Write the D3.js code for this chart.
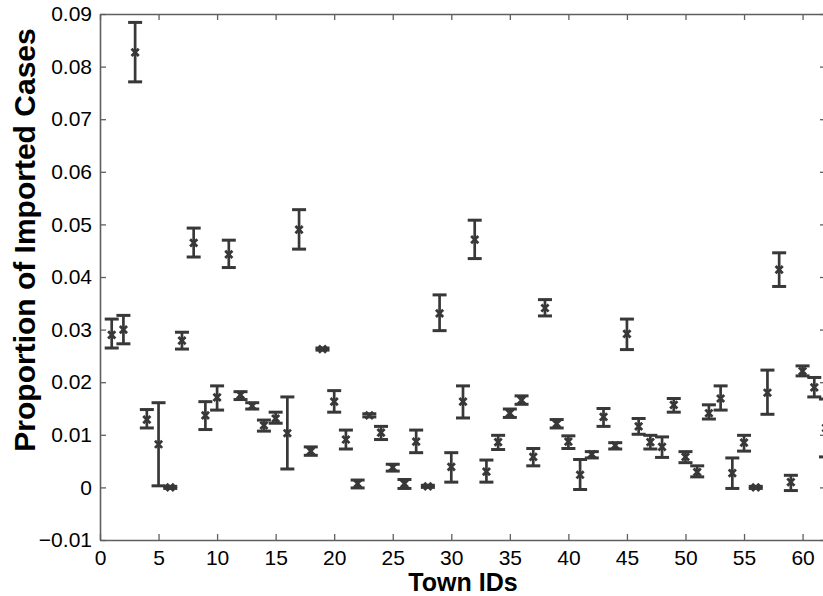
<!DOCTYPE html>
<html>
<head>
<meta charset="utf-8">
<script src="https://cdn.jsdelivr.net/npm/d3@7"></script>
<style>
  html, body { margin: 0; padding: 0; background: #fff; }
  svg { display: block; }
  text { font-family: "Liberation Sans", Arial, sans-serif; }
</style>
</head>
<body>
<div id="chart"></div>
<script>
// ---- data ----
const townIds = d3.range(1, 63);
const means = [
  0.0290, 0.0300, 0.0827, 0.0129, 0.0082, 0.0000, 0.0279, 0.0465, 0.0137, 0.0171,
  0.0443, 0.0176, 0.0155, 0.0118, 0.0131, 0.0103, 0.0490, 0.0069, 0.0263, 0.0163,
  0.0091, 0.0007, 0.0137, 0.0104, 0.0038, 0.0007, 0.0087, 0.0002, 0.0331, 0.0039,
  0.0163, 0.0471, 0.0030, 0.0086, 0.0141, 0.0166, 0.0058, 0.0341, 0.0121, 0.0087,
  0.0024, 0.0063, 0.0134, 0.0080, 0.0292, 0.0116, 0.0086, 0.0077, 0.0157, 0.0058,
  0.0029, 0.0141, 0.0169, 0.0027, 0.0085, 0.0000, 0.0180, 0.0414, 0.0010, 0.0221,
  0.0190, 0.0113
];
const lowers = [
  0.0265, 0.0273, 0.0771, 0.0113, 0.0003, -0.0002, 0.0263, 0.0438, 0.0110, 0.0147,
  0.0418, 0.0167, 0.0149, 0.0107, 0.0122, 0.0035, 0.0453, 0.0061, 0.0261, 0.0143,
  0.0073, -0.0001, 0.0134, 0.0091, 0.0031, -0.0002, 0.0066, 0.0000, 0.0298, 0.0010,
  0.0132, 0.0435, 0.0010, 0.0072, 0.0133, 0.0158, 0.0041, 0.0326, 0.0113, 0.0074,
  -0.0004, 0.0056, 0.0116, 0.0073, 0.0262, 0.0101, 0.0073, 0.0057, 0.0143, 0.0047,
  0.0020, 0.0130, 0.0147, -0.0002, 0.0069, -0.0002, 0.0139, 0.0382, -0.0006, 0.0212,
  0.0172, 0.0058
];
const uppers = [
  0.0320, 0.0327, 0.0884, 0.0148, 0.0161, 0.0002, 0.0295, 0.0493, 0.0163, 0.0193,
  0.0470, 0.0182, 0.0161, 0.0128, 0.0143, 0.0172, 0.0528, 0.0077, 0.0265, 0.0184,
  0.0109, 0.0014, 0.0140, 0.0116, 0.0044, 0.0015, 0.0109, 0.0004, 0.0366, 0.0066,
  0.0193, 0.0508, 0.0052, 0.0099, 0.0149, 0.0174, 0.0074, 0.0357, 0.0129, 0.0098,
  0.0053, 0.0068, 0.0150, 0.0085, 0.0320, 0.0131, 0.0099, 0.0096, 0.0169, 0.0068,
  0.0041, 0.0157, 0.0193, 0.0056, 0.0099, 0.0002, 0.0223, 0.0446, 0.0023, 0.0231,
  0.0209, 0.0168
];
const xTicks = [0, 5, 10, 15, 20, 25, 30, 35, 40, 45, 50, 55, 60];
const yTicks = [-0.01, 0, 0.01, 0.02, 0.03, 0.04, 0.05, 0.06, 0.07, 0.08, 0.09];
const xLabel = "Town IDs";
const yLabel = "Proportion of Imported Cases";

// ---- layout ----
const W = 823, H = 596;
const plot = { left: 100, right: 826, top: 14, bottom: 540 };
const ink = "#383838";
const axisColor = "#5f5f5f";

const svg = d3.select("#chart").append("svg")
  .attr("width", W).attr("height", H);

const x = d3.scaleLinear().domain([0, 62]).range([plot.left, plot.right]);
const y = d3.scaleLinear().domain([-0.01, 0.09]).range([plot.bottom, plot.top]);

const fmtY = d => d === 0 ? "0" : (d < 0 ? "\u2212" + d3.format(".2f")(-d) : d3.format(".2f")(d));

// axes
const gB = svg.append("g").attr("transform", `translate(0,${plot.bottom})`)
  .call(d3.axisBottom(x).tickValues(xTicks).tickSizeInner(-6).tickSizeOuter(0).tickPadding(10));
const gT = svg.append("g").attr("transform", `translate(0,${plot.top})`)
  .call(d3.axisTop(x).tickValues(xTicks).tickSizeInner(-6).tickSizeOuter(0).tickFormat(""));
const gL = svg.append("g").attr("transform", `translate(${plot.left},0)`)
  .call(d3.axisLeft(y).tickValues(yTicks).tickSizeInner(-6).tickSizeOuter(0).tickPadding(8).tickFormat(fmtY));
const gR = svg.append("g").attr("transform", `translate(${plot.right},0)`)
  .call(d3.axisRight(y).tickValues(yTicks).tickSizeInner(-6).tickSizeOuter(0).tickFormat(""));

[gB, gT, gL, gR].forEach(g => {
  g.select(".domain").attr("stroke", axisColor).attr("stroke-width", 1.6);
  g.selectAll(".tick line").attr("stroke", axisColor).attr("stroke-width", 1.3);
  g.selectAll(".tick text").attr("fill", "#000").style("font-size", "21px")
    .style("font-family", "'Liberation Sans', Arial, sans-serif");
});

// data points
const data = townIds.map((id, i) => ({ id, m: means[i], lo: lowers[i], hi: uppers[i] }));
const capHalf = 7, mk = 3.6;
const pts = svg.append("g").attr("stroke", ink).attr("fill", "none");

const g = pts.selectAll("g.pt").data(data).join("g").attr("class", "pt");
g.append("line")
  .attr("x1", d => x(d.id)).attr("x2", d => x(d.id))
  .attr("y1", d => y(d.lo)).attr("y2", d => y(d.hi))
  .attr("stroke-width", 2.7);
g.append("line")
  .attr("x1", d => x(d.id) - capHalf).attr("x2", d => x(d.id) + capHalf)
  .attr("y1", d => y(d.lo)).attr("y2", d => y(d.lo))
  .attr("stroke-width", 3);
g.append("line")
  .attr("x1", d => x(d.id) - capHalf).attr("x2", d => x(d.id) + capHalf)
  .attr("y1", d => y(d.hi)).attr("y2", d => y(d.hi))
  .attr("stroke-width", 3);
g.append("path")
  .attr("d", d => {
    const cx = x(d.id), cy = y(d.m);
    return `M${cx - mk},${cy - mk}L${cx + mk},${cy + mk}M${cx - mk},${cy + mk}L${cx + mk},${cy - mk}`;
  })
  .attr("stroke-width", 2.8);

// labels
svg.append("text")
  .attr("x", (plot.left + plot.right) / 2).attr("y", 591)
  .attr("text-anchor", "middle")
  .style("font-size", "25px").style("font-weight", "bold")
  .text(xLabel);

svg.append("text")
  .attr("transform", `translate(35,240) rotate(-90)`)
  .attr("text-anchor", "middle")
  .style("font-size", "30px").style("font-weight", "bold")
  .text(yLabel);
</script>
</body>
</html>
